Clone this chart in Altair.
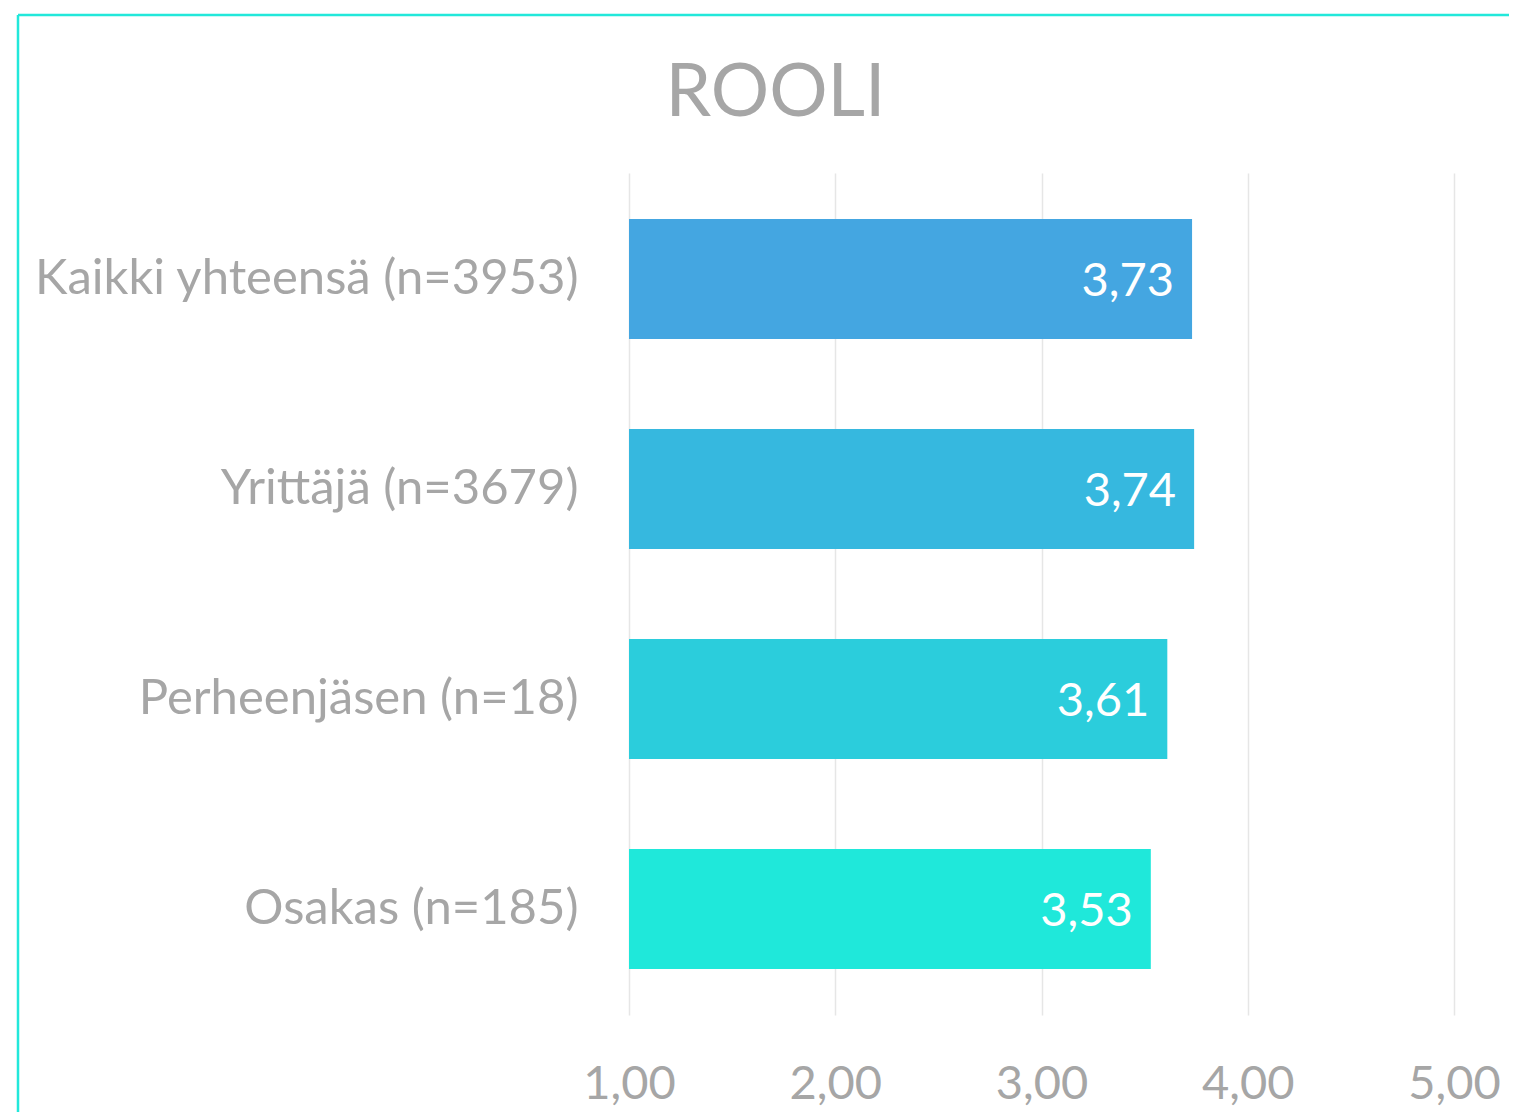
import altair as alt
import pandas as pd

categories = [
    "Kaikki yhteensä (n=3953)",
    "Yrittäjä (n=3679)",
    "Perheenjäsen (n=18)",
    "Osakas (n=185)",
]
values = [3.73, 3.74, 3.61, 3.53]
x_ticks = [1, 2, 3, 4, 5]

bar_colors = ["#44A6E1", "#36B8DF", "#2BCDDC", "#1FE8DA"]
grey = "#A6A6A6"
border = "#22E8DA"
FONT = "Lato"

df = pd.DataFrame({"cat": categories, "val": values})

base = alt.Chart(df).encode(
    y=alt.Y(
        "cat:N",
        sort=categories,
        title=None,
        scale=alt.Scale(paddingInner=0.4286, paddingOuter=0.219),
        axis=alt.Axis(
            grid=False, domain=False, ticks=False, labelPadding=51,
            labelLimit=800, labelFontSize=49, labelColor=grey, labelFont=FONT,
        ),
    ),
)

bars = base.mark_bar().encode(
    x=alt.X(
        "val:Q",
        title=None,
        scale=alt.Scale(domain=[1, 5], nice=False, zero=False),
        axis=alt.Axis(
            values=x_ticks, grid=True, gridColor="#E6E6E6", gridWidth=1.5,
            domain=False, ticks=False, labelPadding=46, labelFlush=False,
            labelFontSize=47, labelColor=grey, labelFont=FONT,
            labelExpr="replace(format(datum.value, '.2f'), '.', ',')",
        ),
    ),
    x2=alt.datum(1),
    color=alt.Color("cat:N", scale=alt.Scale(domain=categories, range=bar_colors), legend=None),
)

labels = base.transform_calculate(
    lbl="replace(format(datum.val, '.2f'), '.', ',')"
).mark_text(
    align="right", baseline="middle", dx=-18, dy=3,
    font=FONT, fontSize=47, color="white",
).encode(x="val:Q", text="lbl:N")

one = pd.DataFrame({"a": [0]})
border_left = alt.Chart(one).mark_rule(color=border, strokeWidth=2.5).encode(
    x=alt.value(-611), y=alt.value(-158), y2=alt.value(1200)
)
border_top = alt.Chart(one).mark_rule(color=border, strokeWidth=2.5).encode(
    x=alt.value(-611), x2=alt.value(1000), y=alt.value(-158)
)

chart = alt.layer(bars, labels, border_left, border_top).properties(
    width=825,
    height=842,
    title=alt.Title(
        "ROOLI", anchor="middle", dx=-266, offset=0, dy=175, baseline="alphabetic",
        fontSize=73, font=FONT, fontWeight="normal", color=grey,
    ),
    autosize=alt.AutoSizeParams(type="none"),
    padding={"left": 621, "top": 165, "right": 55, "bottom": 97},
).configure_view(stroke=None)

chart.save("out.html", embed_options={"renderer": "svg", "actions": False})
